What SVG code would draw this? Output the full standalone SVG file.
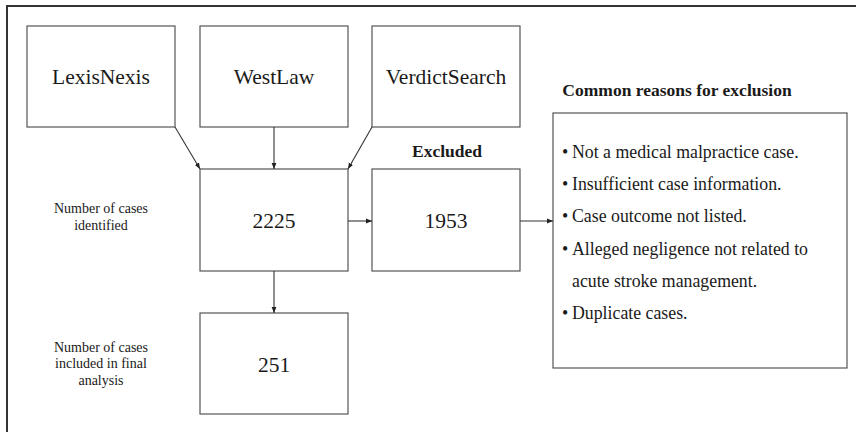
<svg xmlns="http://www.w3.org/2000/svg" width="856" height="432" viewBox="0 0 856 432">
<style>
.box{fill:#fff;stroke:#555;stroke-width:1.2}
.t{font-family:'Liberation Serif',Tinos,'DejaVu Serif',serif;fill:#1a1a1a;text-anchor:middle}
.big{font-size:21.5px}
.lab{font-size:14px}
.b{font-weight:bold;font-size:17.5px}
.li{font-family:'Liberation Serif',Tinos,'DejaVu Serif',serif;fill:#1a1a1a;font-size:17.8px}
.c{stroke:#333;stroke-width:1.1;fill:none;marker-end:url(#ah)}
</style>
<defs>
<marker id="ah" viewBox="0 0 6 6" refX="6" refY="3" markerWidth="6" markerHeight="6" markerUnits="userSpaceOnUse" orient="auto">
<path d="M0,0.6 L6,3 L0,5.4 z" fill="#222"/>
</marker>
</defs>
<rect width="856" height="432" fill="#fff"/>
<path d="M7,432 V6 H856" fill="none" stroke="#333" stroke-width="2"/>
<g id="lexisnexis"><rect class="box" x="27" y="26" width="148" height="101"/><text class="t big" x="101" y="84">LexisNexis</text></g>
<g id="westlaw"><rect class="box" x="200" y="26" width="148" height="101"/><text class="t big" x="274" y="84">WestLaw</text></g>
<g id="verdictsearch"><rect class="box" x="372" y="26" width="148" height="101"/><text class="t big" x="446" y="84">VerdictSearch</text></g>
<g id="identified"><rect class="box" x="200" y="169" width="148" height="102"/><text class="t big" x="274" y="228">2225</text></g>
<g id="excluded"><text class="t b" x="447" y="157">Excluded</text><rect class="box" x="372" y="169" width="148" height="102"/><text class="t big" x="446" y="228">1953</text></g>
<g id="included"><rect class="box" x="200" y="313" width="148" height="101"/><text class="t big" x="274" y="372">251</text></g>
<g id="label-identified"><text class="t lab" x="101" y="213">Number of cases</text><text class="t lab" x="101" y="230">identified</text></g>
<g id="label-included"><text class="t lab" x="101" y="352">Number of cases</text><text class="t lab" x="101" y="368">included in final</text><text class="t lab" x="101" y="385">analysis</text></g>
<g id="reasons">
<text class="t b" x="677" y="96">Common reasons for exclusion</text>
<rect class="box" x="553" y="113" width="294" height="255"/>
<text class="li" y="158"><tspan x="562">•</tspan><tspan x="572">Not a medical malpractice case.</tspan></text>
<text class="li" y="190"><tspan x="562">•</tspan><tspan x="572">Insufficient case information.</tspan></text>
<text class="li" y="222"><tspan x="562">•</tspan><tspan x="572">Case outcome not listed.</tspan></text>
<text class="li" y="255"><tspan x="562">•</tspan><tspan x="572">Alleged negligence not related to</tspan></text>
<text class="li" y="287"><tspan x="572">acute stroke management.</tspan></text>
<text class="li" y="319"><tspan x="562">•</tspan><tspan x="572">Duplicate cases.</tspan></text>
</g>
<g id="connectors">
<path class="c" d="M175,127 L200,169"/>
<path class="c" d="M274,127 L274,169"/>
<path class="c" d="M372,127 L348,169"/>
<path class="c" d="M348,221 L372,221"/>
<path class="c" d="M520,221 L553,221"/>
<path class="c" d="M274,271 L274,313"/>
</g>
</svg>
